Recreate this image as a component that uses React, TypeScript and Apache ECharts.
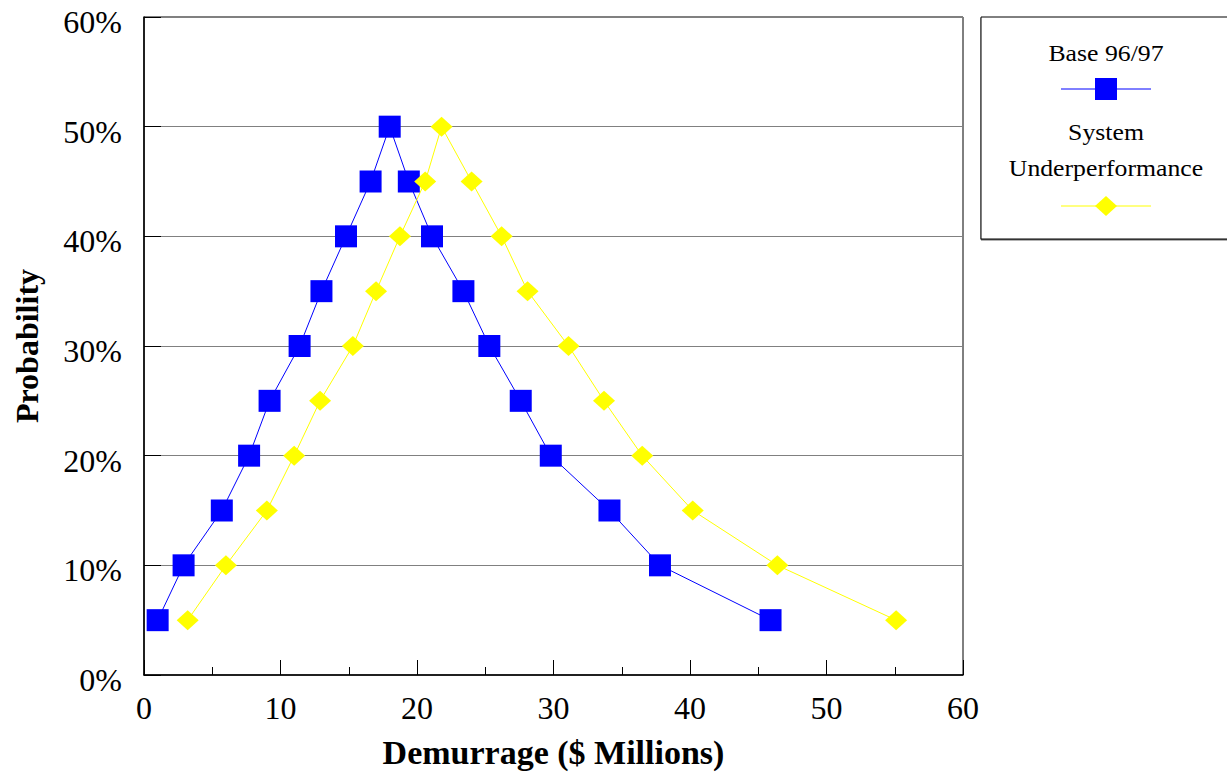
import React, { useEffect, useRef } from "react";
import * as echarts from "echarts";

const probabilities = [5, 10, 15, 20, 25, 30, 35, 40, 45, 50, 45, 40, 35, 30, 25, 20, 15, 10, 5];
const baseDemurrage = [1.0, 2.9, 5.7, 7.7, 9.2, 11.4, 13.0, 14.8, 16.6, 18.0, 19.4, 21.1, 23.4, 25.3, 27.6, 29.8, 34.1, 37.8, 45.9];
const underDemurrage = [3.2, 6.0, 9.0, 11.0, 12.9, 15.3, 17.0, 18.75, 20.6, 21.8, 24.0, 26.2, 28.1, 31.1, 33.7, 36.5, 40.2, 46.4, 55.1];
const seriesNames = ["Base 96/97", "System Underperformance"];
const xTitle = "Demurrage ($ Millions)";
const yTitle = "Probability";

const FONT = "'Liberation Serif', 'Times New Roman', serif";

export default function App() {
  const ref = useRef<HTMLDivElement>(null);
  useEffect(() => {
    if (!ref.current) return;
    const chart = echarts.init(ref.current, null, { renderer: "svg" });
    const basePts = baseDemurrage.map((x, i) => [x, probabilities[i]]);
    const underPts = underDemurrage.map((x, i) => [x, probabilities[i]]);
    const legendCx = 1106;
    chart.setOption({
      animation: false,
      backgroundColor: "#fff",
      textStyle: { fontFamily: FONT },
      grid: {
        left: 144,
        top: 17,
        right: 264,
        bottom: 100,
        show: true,
        borderColor: "#000",
        borderWidth: 1,
        backgroundColor: "transparent",
      },
      xAxis: {
        type: "value",
        min: 0,
        max: 60,
        interval: 10,
        name: xTitle,
        nameLocation: "middle",
        nameGap: 60,
        nameTextStyle: { fontFamily: FONT, fontSize: 34, fontWeight: "bold", color: "#000" },
        axisLine: { show: true, lineStyle: { color: "#000", width: 1.5 } },
        axisTick: { show: true, inside: true, length: 15, lineStyle: { color: "#000", width: 1 } },
        minorTick: { show: true, splitNumber: 2, length: 8, lineStyle: { color: "#000", width: 1 } },
        axisLabel: { fontFamily: FONT, fontSize: 32, color: "#000", margin: 17 },
        splitLine: { show: false },
      },
      yAxis: {
        type: "value",
        min: 0,
        max: 60,
        interval: 10,
        name: yTitle,
        nameLocation: "middle",
        nameGap: 101,
        nameTextStyle: { fontFamily: FONT, fontSize: 32, fontWeight: "bold", color: "#000" },
        axisLine: { show: true, lineStyle: { color: "#000", width: 1.5 } },
        axisTick: { show: true, inside: true, length: 17, lineStyle: { color: "#000", width: 1 } },
        axisLabel: {
          fontFamily: FONT,
          fontSize: 32,
          color: "#000",
          margin: 22,
          verticalAlign: "top",
          lineHeight: 10,
          formatter: "{value}%",
        },
        splitLine: { show: true, lineStyle: { color: "#808080", width: 1.2 } },
      },
      series: [
        {
          name: seriesNames[0],
          type: "line",
          data: basePts,
          symbol: "rect",
          symbolSize: 22,
          lineStyle: { color: "#0000ff", width: 1 },
          itemStyle: { color: "#0000ff" },
        },
        {
          name: seriesNames[1],
          type: "line",
          data: underPts,
          symbol: "diamond",
          symbolSize: [22, 20],
          lineStyle: { color: "#ffff00", width: 1 },
          itemStyle: { color: "#ffff00" },
        },
      ],
      graphic: [
        {
          type: "rect",
          shape: { x: 981, y: 17, width: 260, height: 222 },
          style: { fill: "#fff", stroke: "#000", lineWidth: 1, shadowColor: "rgba(0,0,0,0.6)", shadowOffsetY: 1, shadowBlur: 0 },
        },
        {
          type: "text",
          x: legendCx,
          y: 53,
          scaleX: 1.12,
          style: { text: "Base 96/97", fontFamily: FONT, fontSize: 23, fill: "#000", align: "center", verticalAlign: "middle" },
        },
        { type: "line", shape: { x1: 1061, y1: 89, x2: 1151, y2: 89 }, style: { stroke: "#0000ff", lineWidth: 1 } },
        { type: "rect", shape: { x: legendCx - 11, y: 78, width: 22, height: 22 }, style: { fill: "#0000ff" } },
        {
          type: "text",
          x: legendCx,
          y: 132,
          scaleX: 1.12,
          style: { text: "System", fontFamily: FONT, fontSize: 23, fill: "#000", align: "center", verticalAlign: "middle" },
        },
        {
          type: "text",
          x: legendCx,
          y: 168,
          scaleX: 1.12,
          style: { text: "Underperformance", fontFamily: FONT, fontSize: 23, fill: "#000", align: "center", verticalAlign: "middle" },
        },
        { type: "line", shape: { x1: 1061, y1: 206, x2: 1151, y2: 206 }, style: { stroke: "#ffff00", lineWidth: 1 } },
        {
          type: "polygon",
          shape: { points: [[legendCx, 196], [legendCx + 11, 206], [legendCx, 216], [legendCx - 11, 206]] },
          style: { fill: "#ffff00" },
        },
      ],
    });
    return () => chart.dispose();
  }, []);
  return (
    <div
      ref={ref}
      style={{ position: "fixed", left: 0, top: 0, width: 1227, height: 775, background: "#fff" }}
    />
  );
}
